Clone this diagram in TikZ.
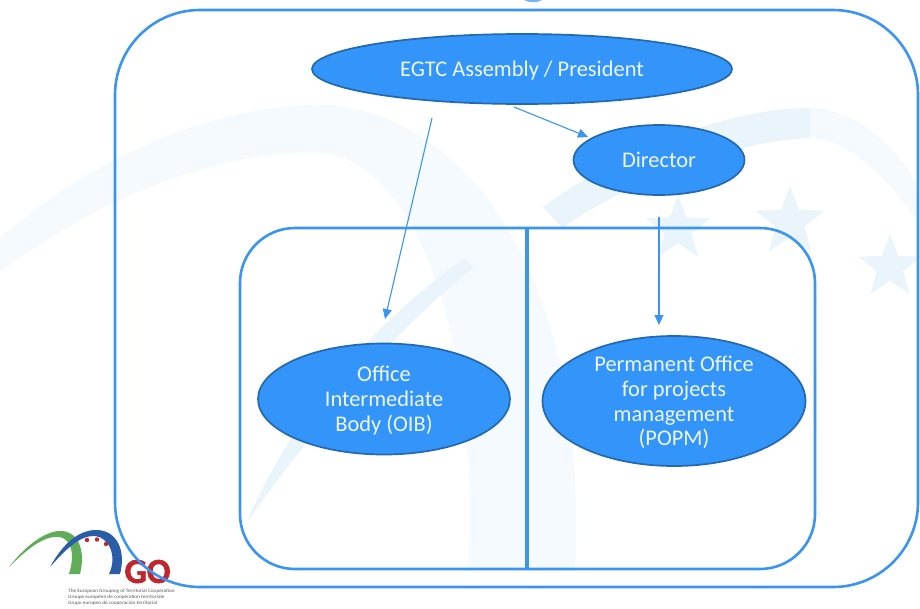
\documentclass[tikz,border=0pt]{standalone}
\usepackage{fontspec}
\setmainfont{Carlito}
\newfontfamily\gofont[BoldFeatures={FakeBold=2}]{Carlito}
\usetikzlibrary{arrows.meta,shapes.geometric}
\definecolor{bluemain}{HTML}{3B94F0}
\definecolor{bluefill}{HTML}{3394FA}
\definecolor{blueedge}{HTML}{2468B0}
\definecolor{ovaltext}{HTML}{EEF7FF}
\definecolor{wmA}{HTML}{F5FAFE}
\definecolor{wmB}{HTML}{E9F4FB}
\definecolor{logogreen}{HTML}{5FAE57}
\definecolor{logoblue}{HTML}{2A5CA8}
\definecolor{logored}{HTML}{C0262D}
\setlength{\tabcolsep}{0pt}
\newcommand{\ovallines}[1]{\raisebox{-8pt}[0pt][0pt]{\makebox[0pt]{\begin{tabular}{c}#1\end{tabular}}}}
\tikzset{
  x=1pt,y=-1pt,
  panel/.style={draw=bluemain,line width=2.6pt},
  oval/.style={ellipse,draw=blueedge,line width=1.7pt,fill=bluefill,text=ovaltext,inner sep=0pt,font=\fontsize{22.4}{24.8}\selectfont},
  link/.style={draw=bluemain,line width=1.1pt,-{Triangle[length=10pt,width=9pt]}},
  wmstar/.style={star,star points=5,star point ratio=2.4,fill=wmB,draw=none,inner sep=0pt},
  logotext/.style={font=\fontsize{4.9}{5.5}\selectfont,text=black!65,anchor=west,inner sep=0pt,xscale=1.08,transform shape}
}
\begin{document}
\begin{tikzpicture}
\useasboundingbox (0,0) rectangle (920,608);
\fill[white] (0,0) rectangle (920,608);
% watermark
\fill[wmA] (0,238) .. controls (90,160) and (200,110) .. (310,105) .. controls (440,100) and (590,240) .. (575,570) -- (468,570) .. controls (480,350) and (420,150) .. (310,152) .. controls (200,155) and (90,205) .. (0,272) -- cycle;
\fill[wmB] (465,258) -- (473,268) .. controls (400,325) and (320,420) .. (247,522) .. controls (290,420) and (370,325) .. (465,258) -- cycle;
\fill[wmB] (543,207) .. controls (620,150) and (730,108) .. (810,108) -- (810,138) .. controls (740,140) and (630,180) .. (562,228) -- cycle;
\fill[wmA] (810,108) .. controls (860,110) and (900,150) .. (920,190) -- (920,225) .. controls (890,180) and (850,140) .. (810,138) -- cycle;
\node[wmstar,minimum size=68pt] (s1) at (678,229) {};
\node[wmstar,minimum size=72pt] (s2) at (790,222) {};
\node[wmstar,minimum size=66pt] (s3) at (890,267) {};
\fill[bluemain!70] (524,0) .. controls (528,3) and (538,3) .. (542,0) -- cycle;
% logo
\fill[logogreen] (9,567) .. controls (30,540) and (50,530) .. (62,531) .. controls (78,532) and (86,550) .. (80,574) -- (69,574) .. controls (75,555) and (72,540) .. (60,537) .. controls (45,535) and (28,548) .. (9,567) -- cycle;
\fill[logoblue] (50,567) .. controls (62,545) and (78,530) .. (96,530) .. controls (118,530) and (126,552) .. (120,574) -- (109,574) .. controls (118,555) and (108,537) .. (95,536) .. controls (80,535) and (65,550) .. (50,567) -- cycle;
\fill[logored] (87,540) circle (2.2pt) (97,539.5) circle (2.2pt) (106,544) circle (2.2pt);
\node[font=\gofont\bfseries\fontsize{35}{35}\selectfont,text=logored,inner sep=0pt] (go) at (147.5,571.5) {GO};
\node[logotext] (lt1) at (68,591.5) {The European Grouping of Territorial Cooperation};
\node[logotext] (lt2) at (68,597) {Groupe européen de coopération territoriale};
\node[logotext] (lt3) at (68,602.7) {Grupo europeo de cooperación territorial};
% panels
\draw[panel,rounded corners=85pt] (115,10) rectangle (918,587);
\draw[panel,rounded corners=55pt] (240,228) rectangle (815,569);
\coordinate (dt) at (527,228);
\coordinate (db) at (527,569);
\draw[draw=bluemain,line width=4.2pt] (dt) -- (db);
% ovals
\node[oval,minimum width=420pt,minimum height=70pt] (assembly) at (522,69) {\ovallines{EGTC Assembly / President}};
\node[oval,minimum width=171pt,minimum height=70pt] (director) at (659,160) {\ovallines{Director}};
\node[oval,minimum width=252pt,minimum height=111pt] (oib) at (384,399) {\ovallines{Office\\Intermediate\\Body (OIB)}};
\node[oval,minimum width=263pt,minimum height=130pt] (popm) at (674,401) {\ovallines{Permanent Office\\for projects\\management\\(POPM)}};
% connectors
\coordinate (a1) at (432,118);
\coordinate (a2) at (385,319);
\coordinate (b1) at (514,107);
\coordinate (b2) at (588,137);
\coordinate (c1) at (659,217);
\coordinate (c2) at (659,325);
\draw[link] (a1) -- (a2);
\draw[link] (b1) -- (b2);
\draw[link] (c1) -- (c2);
\end{tikzpicture}
\end{document}
